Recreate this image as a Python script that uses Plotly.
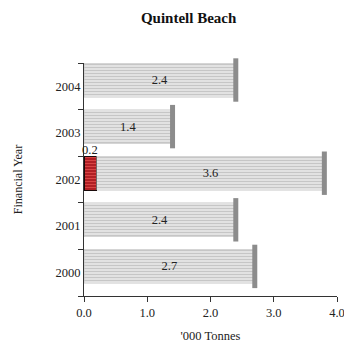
import plotly.graph_objects as go

years = ["2000", "2001", "2002", "2003", "2004"]
other_values = [0, 0, 0.2, 0, 0]
main_values = [2.7, 2.4, 3.6, 1.4, 2.4]
x_ticks = [0, 1, 2, 3, 4]
x_tick_labels = ["0.0", "1.0", "2.0", "3.0", "4.0"]

FONT = "Liberation Serif"
BAR_W = 0.73
BAR_OFF = -0.23

fig = go.Figure()
fig.add_trace(go.Bar(
    y=years, x=other_values, orientation="h",
    marker=dict(color="#c0282c", line=dict(color="#1a0a0a", width=1),
                pattern=dict(shape="-", fgcolor="#d84444", bgcolor="#b01f24",
                             size=3, solidity=0.35, fillmode="replace")),
    width=BAR_W, offset=BAR_OFF, hoverinfo="skip", showlegend=False,
))
fig.add_trace(go.Bar(
    y=years, x=main_values, orientation="h",
    marker=dict(color="#d9d9d9", line=dict(color="#c8c8c8", width=0.5),
                pattern=dict(shape="-", fgcolor="#c6c6c6", bgcolor="#e6e6e6",
                             size=3, solidity=0.4, fillmode="replace")),
    width=BAR_W, offset=BAR_OFF,
    text=[f"{v:.1f}" for v in main_values], textposition="inside",
    insidetextanchor="middle",
    textfont=dict(family=FONT, size=12.5, color="#222222"),
    hoverinfo="skip", showlegend=False,
))

# darker end caps at the end of each bar (cylinder look), on an overlaid numeric axis
totals = [a + b for a, b in zip(other_values, main_values)]
fig.add_trace(go.Scatter(
    x=totals, y=[i + BAR_OFF + BAR_W / 2 for i in range(len(years))],
    yaxis="y2", mode="markers", cliponaxis=False,
    marker=dict(symbol="line-ns", size=31, line=dict(width=5, color="#8c8c8c")),
    hoverinfo="skip", showlegend=False,
))

for i, v in enumerate(other_values):
    if v > 0:
        fig.add_annotation(x=v / 2, y=i + BAR_OFF + BAR_W, text=f"{v:.1f}",
                           showarrow=False, yanchor="bottom", yshift=-3,
                           font=dict(family=FONT, size=12.5, color="#222222"))

fig.update_layout(
    width=344, height=345,
    barmode="stack",
    plot_bgcolor="white", paper_bgcolor="white",
    margin=dict(l=76, r=15, t=55, b=57),
    title=dict(text="<b>Quintell Beach</b>", x=0.525, xanchor="center",
               yref="container", y=0.971, yanchor="middle",
               font=dict(family=FONT, size=15, color="#111111")),
    font=dict(family=FONT, size=12.5, color="#222222"),
    yaxis2=dict(overlaying="y", range=[-0.5, len(years) - 0.5], visible=False,
                fixedrange=True),
)
fig.update_xaxes(range=[0, 4], tickvals=x_ticks, ticktext=x_tick_labels,
                 automargin=False,
                 showgrid=False, zeroline=False, showline=True,
                 linecolor="#333333", linewidth=1, ticks="outside", ticklen=5,
                 tickcolor="#333333", tickfont=dict(family=FONT, size=12.5),
                 title=dict(text="'000 Tonnes", standoff=12,
                            font=dict(family=FONT, size=12.5)))
fig.update_yaxes(selector=dict(anchor=None), overwrite=False)
fig.layout.yaxis.update(
    type="category", categoryorder="array", categoryarray=years,
    range=[-0.5, len(years) - 0.5], autorange=False, automargin=False,
    showgrid=False, showline=True, linecolor="#333333", linewidth=1,
    ticks="outside", ticklen=5, tickcolor="#333333",
    tickson="boundaries", tickfont=dict(family=FONT, size=12.5),
    title=dict(text="Financial Year", standoff=30, font=dict(family=FONT, size=12)),
)

fig.write_html("out.html")
